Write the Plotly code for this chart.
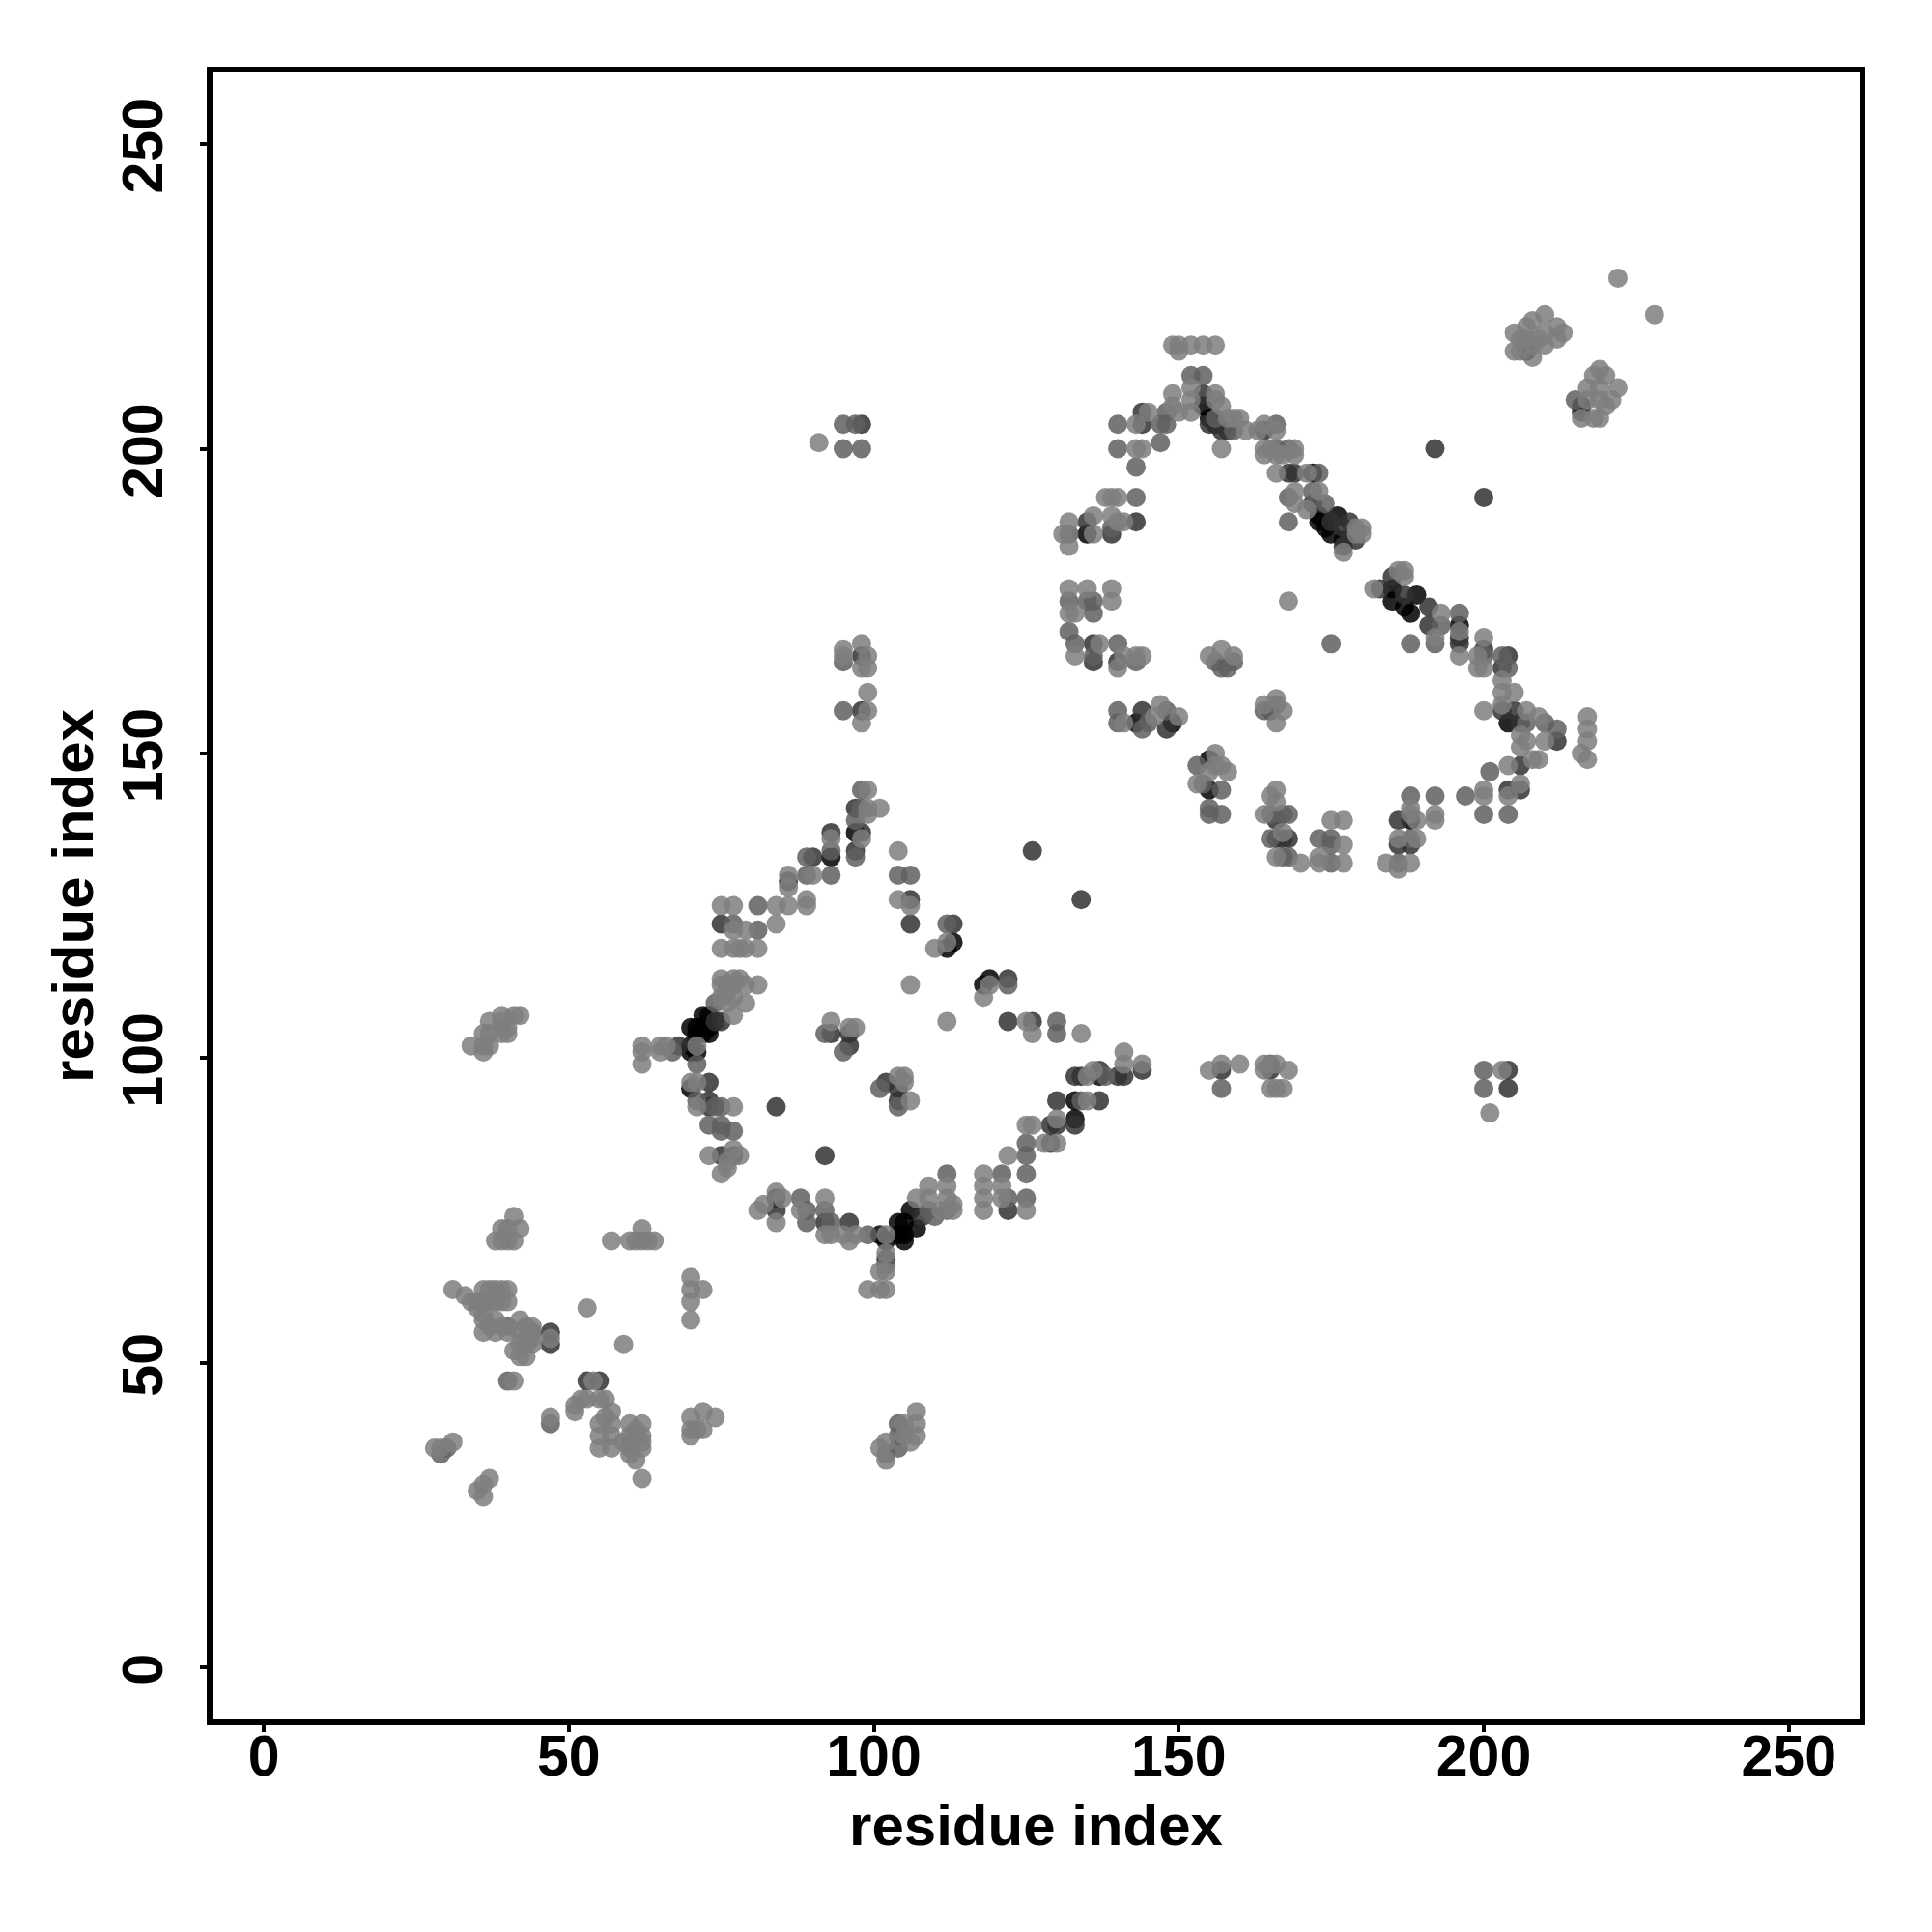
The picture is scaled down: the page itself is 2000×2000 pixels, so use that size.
import plotly.graph_objects as go

# Contact map: (residue i, residue j), grouped by grey level
black_points = [
(97,137),(93,133),(72,107),(73,107),(73,105),(70,105),(71,105),(73,104),(71,104),(72,105),(72,104),(70,102),
(70,101),(71,101),(70,95),(113,119),(112,118),(118,112),(119,113),(137,97),(133,93),(133,90),(101,71),(102,70),
(104,73),(104,71),(105,70),(106,75),(105,73),(107,72),(105,71),(154,207),(156,204),(155,205),(172,196),(173,188),
(176,189),(175,186),(177,185),(173,189),(174,187),(135,186),(143,155),(149,155),(185,177),(185,175),(189,176),
(188,173),(187,174),(196,171),(204,155),(155,149),(155,144),(188,139),(207,216),(216,207)]

dark_points = [
(47,55),(47,53),(53,47),(55,47),(97,141),(93,137),(98,137),(97,134),(90,133),(86,129),(75,122),(74,106),(75,106),
(68,102),(73,96),(73,93),(73,92),(75,84),(77,84),(93,104),(96,104),(96,102),(102,96),(104,95),(104,93),(84,92),
(92,84),(106,126),(106,122),(113,122),(126,134),(134,126),(122,113),(122,106),(126,106),(144,98),(133,97),(134,97),
(137,98),(140,97),(141,97),(130,93),(137,93),(133,89),(129,89),(130,89),(129,86),(122,75),(84,77),(84,75),(92,73),
(96,73),(102,67),(108,74),(154,209),(155,204),(157,203),(158,203),(164,203),(144,206),(144,204),(168,196),(169,196),
(172,191),(175,188),(177,187),(177,184),(179,185),(178,188),(143,188),(139,186),(135,188),(136,168),(136,165),
(140,165),(192,200),(200,192),(144,157),(148,154),(165,157),(185,179),(183,177),(187,176),(191,174),(191,171),
(196,168),(196,169),(200,167),(204,166),(203,164),(203,157),(205,157),(206,155),(212,152),(166,139),(166,136),
(167,136),(168,136),(186,139),(186,135),(188,135),(204,144),(206,144),(206,148),(157,98),(165,98),(204,98),(204,95),
(98,204),(98,166),(98,157),(216,206)]

mid_points = [
(40,47),(47,40),(30,36),(29,35),(104,40),(104,38),(104,36),(102,35),(44,55),(40,56),(98,144),(98,141),(97,139),
(93,134),(89,133),(97,133),(89,130),(93,130),(81,125),(77,122),(81,121),(74,109),(67,101),(71,99),(71,93),(74,92),
(75,92),(73,89),(75,89),(75,88),(77,88),(92,104),(95,101),(101,95),(104,92),(104,130),(106,130),(112,122),(122,112),
(130,106),(130,104),(138,97),(134,93),(125,86),(125,84),(125,81),(121,81),(122,77),(125,77),(88,77),(89,75),(89,73),
(92,75),(93,73),(99,71),(102,66),(112,81),(109,75),(112,75),(110,74),(152,212),(154,212),(148,206),(156,205),(159,203),
(166,204),(140,204),(147,204),(148,204),(147,201),(140,200),(143,197),(166,200),(168,200),(173,196),(168,192),(172,193),
(174,191),(168,188),(143,192),(139,187),(132,186),(132,175),(135,175),(136,175),(136,173),(132,170),(133,168),(136,166),
(140,168),(143,165),(175,168),(188,168),(157,164),(159,165),(156,165),(158,164),(140,157),(140,155),(144,154),(148,157),
(145,155),(166,158),(164,157),(193,171),(196,173),(192,168),(200,166),(203,166),(204,164),(207,155),(210,155),(212,154),
(153,148),(154,145),(157,144),(155,141),(155,140),(157,140),(165,140),(167,140),(168,140),(165,136),(167,133),(168,133),
(173,136),(175,136),(175,135),(175,132),(186,132),(188,143),(188,136),(192,143),(197,143),(200,140),(201,147),(204,140),
(157,95),(165,99),(200,98),(200,95),(95,204),(97,204),(95,200),(98,200),(95,157),(215,208),(95,165)]

light_points = [
(41,74),(39,72),(40,72),(42,72),(38,70),(39,70),(40,70),(41,70),(57,70),(60,70),(61,70),(62,70),(62,72),(64,70),(63,70),
(31,62),(36,62),(37,62),(38,62),(39,62),(40,62),(33,61),(34,60),(35,60),(36,60),(37,60),(38,60),(39,60),(40,60),(35,59),
(36,58),(36,57),(38,57),(36,55),(38,55),(40,55),(42,57),(37,56),(39,56),(43,56),(44,56),(42,55),(43,54),(44,54),(42,53),
(43,53),(44,53),(42,51),(43,51),(41,52),(47,54),(53,59),(59,53),(70,64),(70,62),(72,62),(70,60),(70,57),(41,47),(54,47),
(51,43),(51,42),(52,44),(53,44),(55,44),(56,44),(57,42),(55,40),(57,40),(55,38),(57,38),(55,36),(57,36),(56,41),(60,40),
(62,40),(60,38),(62,38),(60,36),(62,36),(61,34),(62,37),(60,37),(60,35),(59,37),(61,39),(47,41),(62,31),(70,41),(72,42),
(74,41),(70,38),(70,39),(72,39),(71,39),(31,37),(28,36),(29,36),(37,31),(35,29),(36,30),(36,28),(107,42),(107,40),(105,40),
(107,38),(106,37),(101,36),(102,37),(102,34),(105,38),(42,107),(41,107),(39,107),(37,106),(40,105),(39,106),(36,104),
(39,104),(40,104),(37,104),(34,102),(36,102),(37,102),(36,101),(99,144),(99,141),(101,141),(99,140),(93,136),(98,136),
(86,130),(90,130),(86,128),(75,125),(77,125),(84,125),(86,125),(89,126),(89,125),(79,121),(77,121),(84,122),(75,118),
(77,118),(78,118),(79,118),(81,118),(75,113),(77,113),(78,113),(75,112),(76,112),(77,112),(79,112),(81,112),(75,110),
(77,110),(79,109),(76,109),(76,111),(77,107),(62,102),(65,101),(65,102),(66,102),(71,102),(62,99),(62,101),(70,96),(71,96),
(71,92),(77,92),(73,84),(77,85),(78,84),(76,83),(75,81),(76,82),(93,106),(96,105),(97,105),(104,97),(105,97),(105,96),
(106,93),(104,134),(104,126),(106,125),(112,119),(110,118),(106,112),(119,112),(118,110),(112,106),(125,106),(126,104),
(134,104),(141,101),(141,99),(144,99),(136,98),(135,97),(135,93),(130,90),(125,89),(126,89),(128,86),(130,86),(122,84),
(121,79),(118,81),(118,79),(118,77),(118,75),(121,77),(125,75),(81,75),(82,76),(84,78),(85,77),(84,73),(88,75),(92,77),
(92,71),(93,71),(96,70),(95,71),(97,71),(102,71),(102,68),(101,65),(102,65),(99,62),(101,62),(102,62),(107,77),(109,79),
(109,77),(112,79),(113,76),(111,75),(113,75),(112,77),(149,217),(150,217),(152,217),(154,217),(156,217),(150,216),(149,209),
(152,210),(149,207),(150,206),(152,206),(152,208),(156,209),(156,208),(157,207),(158,205),(159,205),(160,205),(161,203),
(163,203),(164,204),(166,203),(145,206),(143,204),(143,200),(144,200),(157,200),(164,200),(165,200),(169,200),(164,199),
(166,199),(167,199),(169,199),(166,196),(171,196),(169,193),(169,191),(173,193),(171,190),(177,183),(179,187),(179,186),
(180,187),(180,186),(138,192),(139,192),(140,192),(141,188),(139,189),(136,189),(136,186),(132,188),(131,186),(132,184),
(140,188),(132,177),(135,177),(139,177),(139,175),(132,173),(133,173),(133,166),(137,168),(140,164),(143,166),(144,166),
(141,166),(168,175),(155,166),(157,167),(159,166),(141,155),(147,158),(150,156),(146,156),(164,158),(166,159),(167,157),
(166,155),(186,180),(187,180),(187,179),(182,177),(193,173),(196,170),(192,169),(196,166),(200,169),(200,164),(199,166),
(199,164),(203,162),(203,160),(205,160),(203,158),(207,157),(209,156),(200,157),(217,156),(217,154),(217,152),(216,150),
(217,149),(206,153),(206,151),(207,152),(210,152),(208,149),(209,149),(222,228),(228,222),(210,222),(208,221),(212,220),
(213,219),(207,220),(210,219),(210,217),(205,219),(205,216),(208,215),(206,216),(208,217),(212,218),(209,218),(207,218),
(206,218),(219,213),(218,212),(220,212),(222,210),(217,210),(219,210),(221,208),(219,208),(216,205),(218,205),(219,205),
(217,208),(220,207),(156,150),(156,148),(158,147),(155,147),(157,148),(153,145),(166,144),(165,143),(166,142),(164,140),
(167,137),(166,133),(170,132),(175,139),(177,139),(177,135),(173,133),(173,132),(177,132),(184,132),(186,131),(188,132),
(186,136),(188,141),(188,140),(189,139),(189,136),(192,140),(192,139),(200,144),(200,143),(204,143),(206,145),(204,148),
(155,98),(157,99),(160,99),(164,99),(166,99),(164,98),(168,98),(165,95),(166,95),(167,95),(203,98),(201,91),(91,201),
(95,167),(95,166),(98,168),(99,166),(98,164),(99,164),(99,160),(99,157),(98,155)]

groups = [
    ("black", black_points, "#000000"),
    ("dark", dark_points, "#313131"),
    ("mid", mid_points, "#5f5f5f"),
    ("light", light_points, "#7e7e7e"),
]
tick_values = [0, 50, 100, 150, 200, 250]
axis_label = "residue index"

fig = go.Figure()
for name, pts, col in groups:
    fig.add_trace(go.Scatter(
        x=[p[0] for p in pts], y=[p[1] for p in pts], mode="markers", name=name,
        marker=dict(size=20, color=col, opacity=0.85, line=dict(width=0)),
    ))

axis = dict(
    showgrid=False, zeroline=False, showline=True, mirror=True, linecolor="black", linewidth=6,
    ticks="outside", ticklen=7, tickwidth=3.5, tickcolor="black",
    tickmode="array", tickvals=tick_values, ticktext=[str(v) for v in tick_values],
    tickfont=dict(family="Liberation Sans", size=59, color="black", weight="bold"),
    automargin=False,
)
fig.update_layout(
    width=1990, height=1990, autosize=False, showlegend=False,
    paper_bgcolor="white", plot_bgcolor="white",
    margin=dict(l=212, r=73, t=67, b=218),
    font=dict(family="Liberation Sans", color="black"),
    xaxis=dict(axis, range=[-8.4, 261.6], ticklabelstandoff=-26,
               title=dict(text="<b>%s</b>" % axis_label, font=dict(size=60, family="Liberation Sans"), standoff=20)),
    yaxis=dict(axis, range=[-8.55, 261.75], tickangle=-90, ticklabelstandoff=15, ticklabelshift=11,
               title=dict(text="<b>%s</b>" % axis_label, font=dict(size=60, family="Liberation Sans"), standoff=1)),
)
fig.write_html("out.html")
